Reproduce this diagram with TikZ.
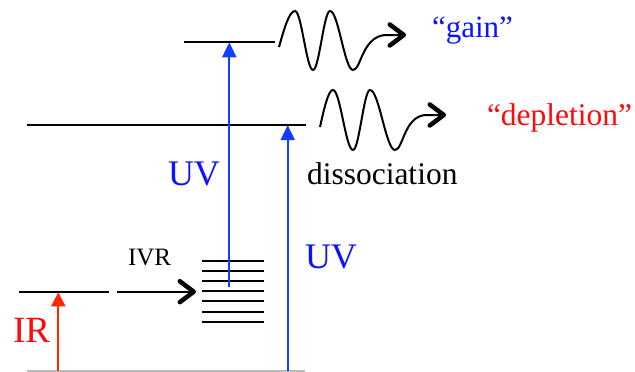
\documentclass[tikz,border=0pt]{standalone}
\usepackage{fontspec}
\setmainfont{Liberation Serif}
\usetikzlibrary{arrows.meta}
\definecolor{uvblue}{RGB}{20,60,255}
\definecolor{txtblue}{RGB}{10,20,255}
\definecolor{irred}{RGB}{255,40,0}
\definecolor{txtred}{RGB}{255,10,10}
\definecolor{basegray}{RGB}{185,185,185}
\tikzset{
  level/.style={line width=2pt, black},
  uvarrow/.style={line width=2pt, uvblue, -{Triangle[length=15pt,width=14pt]}},
  irarrow/.style={line width=2pt, irred, -{Triangle[length=14pt,width=14pt]}},
  barb/.style={-{Straight Barb[length=14pt,width=21pt,line width=4.5pt,round]}},
  wave/.style={line width=2pt, black, barb},
  lbl/.style={anchor=base west, inner sep=0pt, outer sep=0pt},
}
\begin{document}
\begin{tikzpicture}[x=1pt,y=-1pt]
\useasboundingbox (0,0) rectangle (635,372);
% levels
\coordinate (topL) at (184,42.3);  \coordinate (topR) at (275,42.3);
\coordinate (midL) at (27,125);    \coordinate (midR) at (306,125);
\coordinate (irL) at (19,292.3);   \coordinate (irR) at (109,292.3);
\coordinate (baseL) at (27,371);   \coordinate (baseR) at (305,371);
\draw[level] (topL) -- (topR);
\draw[level] (midL) -- (midR);
\draw[level] (irL) -- (irR);
\draw[line width=1.6pt, basegray] (baseL) -- (baseR);
% vibrational stack
\foreach \i in {0,...,6}{
  \coordinate (s\i L) at (202,{260.7+10.17*\i});
  \coordinate (s\i R) at (264,{260.7+10.17*\i});
  \draw[level] (s\i L) -- (s\i R);
}
% arrows
\coordinate (uv1s) at (229.3,287);
\coordinate (uv1e) at (229.3,42.3);
\coordinate (uv2s) at (287.7,371);
\coordinate (uv2e) at (287.7,125);
\coordinate (irs) at (58.3,371);
\coordinate (ire) at (58.3,292.3);
\draw[uvarrow] (uv1s) -- (uv1e);
\draw[uvarrow] (uv2s) -- (uv2e);
\draw[irarrow] (irs) -- (ire);
% IVR arrow
\coordinate (ivrs) at (117,291.7);
\coordinate (ivre) at (196,291.7);
\draw[line width=1.8pt, barb] (ivrs) -- (ivre);
% waves
\coordinate (w1s) at (279,47);
\coordinate (w1e) at (406,35);
\draw[wave] (w1s) sin (295,11) cos (304,40.5) sin (313,70) cos (321.5,40.5)
  sin (330,11) cos (341.5,40.5) sin (353,70)
  .. controls (361,70) and (362,37) .. (385,35) -- (w1e);
\coordinate (w2s) at (320,127);
\coordinate (w2e) at (446,115);
\draw[wave] (w2s) sin (333,90) cos (343,120) sin (353,150) cos (361.5,120)
  sin (370,90) cos (382.5,120) sin (395,150)
  .. controls (403,150) and (404,117) .. (425,115) -- (w2e);
% labels
\node[lbl, txtred, font=\fontsize{37}{40}\selectfont] (irlbl) at (13,342) {IR};
\node[lbl, txtblue, font=\fontsize{36}{40}\selectfont] (uv1lbl) at (168,185) {UV};
\node[lbl, txtblue, font=\fontsize{36}{40}\selectfont] (uv2lbl) at (305,268) {UV};
\node[lbl, font=\fontsize{31.5}{34}\selectfont] (dislbl) at (307,184) {dissociation};
\node[lbl, font=\fontsize{25}{28}\selectfont] (ivrlbl) at (128,265) {IVR};
\node[lbl, txtblue, font=\fontsize{31}{34}\selectfont] (gainlbl) at (432,37) {“gain”};
\node[lbl, txtred, font=\fontsize{31.5}{34}\selectfont] (deplbl) at (487,125) {“depletion”};
\end{tikzpicture}
\end{document}
